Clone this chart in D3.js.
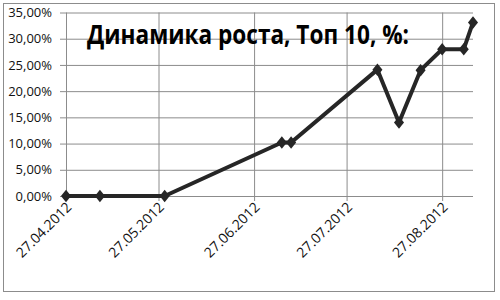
<!DOCTYPE html>
<html><head><meta charset="utf-8">
<script src="https://cdn.jsdelivr.net/npm/d3@7"></script>
<style>body{margin:0;background:#fff}</style>
</head><body>
<svg id="c" width="500" height="300"></svg>
<script>
const title = "Динамика роста, Топ 10, %:";
const dates = ["27.04.2012","08.05.2012","29.05.2012","06.07.2012","09.07.2012","06.08.2012","13.08.2012","20.08.2012","27.08.2012","03.09.2012","06.09.2012"];
const values = [0, 0, 0, 10.2, 10.2, 24.1, 14.0, 24.0, 28.0, 28.0, 33.1];
const xTickLabels = ["27.04.2012","27.05.2012","27.06.2012","27.07.2012","27.08.2012"];
const yTicks = [0,5,10,15,20,25,30,35];

const parse = d3.timeParse("%d.%m.%Y");
const fmtY = v => d3.format(".2f")(v).replace(".", ",") + "%";
const svg = d3.select("#c");
const m = {l:66, r:473, t:12.5, b:196};

svg.append("rect").attr("x",3.5).attr("y",3.5).attr("width",491).attr("height",288)
  .attr("fill","#fff").attr("stroke","#8c8c8c").attr("stroke-width",1);

const x = d3.scaleTime().domain([parse("27.04.2012"), parse("06.09.2012")]).range([m.l, m.r]);
const y = d3.scaleLinear().domain([0,35]).range([m.b, m.t]);

// horizontal grid + y axis
const ya = svg.append("g").attr("transform",`translate(${m.l},0)`)
  .call(d3.axisLeft(y).tickValues(yTicks).tickFormat(fmtY).tickSize(6).tickPadding(8));
ya.select(".domain").remove();
ya.selectAll(".tick line").attr("stroke","#8c8c8c");
ya.selectAll(".tick").append("line").attr("x1",0).attr("x2",m.r-m.l).attr("stroke","#8c8c8c");
ya.selectAll("text").attr("font-family","Open Sans").attr("font-size","13px").attr("fill","#111");

// vertical grid + x axis
const xa = svg.append("g").attr("transform",`translate(0,${m.b})`)
  .call(d3.axisBottom(x).tickValues(xTickLabels.map(parse)).tickFormat(d3.timeFormat("%d.%m.%Y")).tickSize(5));
xa.select(".domain").remove();
xa.selectAll(".tick line").attr("stroke","#8c8c8c");
xa.selectAll(".tick").append("line").attr("y1",0).attr("y2",m.t-m.b).attr("stroke","#8c8c8c");
xa.selectAll("text").attr("font-family","Open Sans").attr("font-size","14px").attr("fill","#111")
  .attr("text-anchor","end").attr("x",0).attr("y",0).attr("dy",0)
  .attr("transform","translate(6,12) rotate(-45)");

const data = dates.map((d,i)=>({d:parse(d), v:values[i]}));
svg.append("path").datum(data)
  .attr("d", d3.line().x(d=>x(d.d)).y(d=>y(d.v)))
  .attr("fill","none").attr("stroke","#262626").attr("stroke-width",4).attr("stroke-linejoin","round");
svg.append("g").selectAll("path").data(data).join("path")
  .attr("d", d3.symbol().type(d3.symbolDiamond).size(45))
  .attr("transform", d=>`translate(${x(d.d)},${y(d.v)}) scale(1.4,1)`)
  .attr("fill","#262626");

svg.append("text").attr("x",87).attr("y",44).text(title)
  .attr("font-family","Open Sans").attr("font-weight","bold").attr("font-size","27px")
  .attr("fill","#000").attr("textLength",322).attr("lengthAdjust","spacingAndGlyphs");
</script>
</body></html>
